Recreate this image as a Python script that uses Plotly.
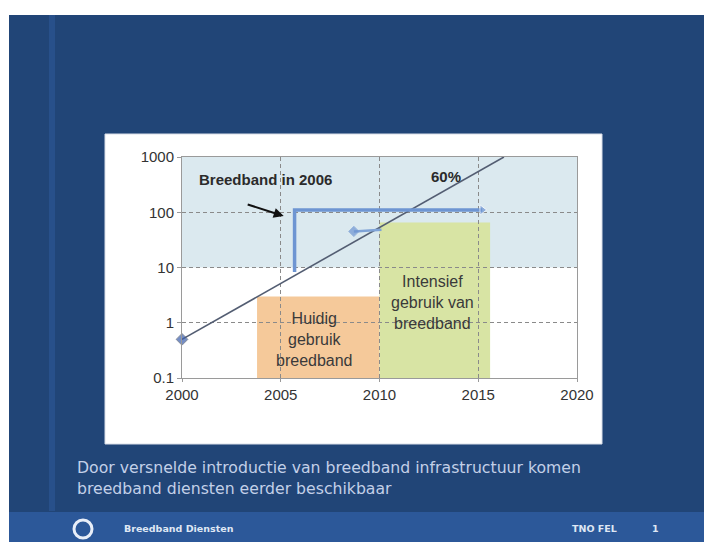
import plotly.graph_objects as go

# ---- data ----
x_ticks = [2000, 2005, 2010, 2015, 2020]
y_tickvals = [0.1, 1, 10, 100, 1000]
y_ticktext = ["0.1", "1", "10", "100", "1000"]

trend_years = [2000, 2016.3]
trend_values = [0.5, 1000]

step_years = [2005.7, 2005.7, 2015.2]
step_values = [8.3, 110, 110]

early_years = [2008.7, 2010.1]
early_values = [45, 48]

band_years = [2000, 2020]
band_values = [10, 1000]

current_years = [2003.8, 2010]
current_values = [0.1, 3]

intensive_years = [2010, 2015.6]
intensive_values = [0.1, 65]

W, H = 712, 542
OFF = 8  # page body margin offset

def px(x):
    return (x - OFF) / W

def py(y):
    return 1 - (y - OFF) / H

fig = go.Figure()

# trend line 60%
fig.add_trace(go.Scatter(
    x=trend_years, y=trend_values, mode="lines+markers",
    line=dict(color="#535d72", width=1.6),
    marker=dict(symbol=["diamond", "circle"], size=[9, 0], color="#3a5fae"),
    showlegend=False, cliponaxis=False))

# step line
fig.add_trace(go.Scatter(
    x=step_years, y=step_values, mode="lines+markers",
    line=dict(color="#6e95d2", width=3.5),
    marker=dict(symbol=["circle", "circle", "triangle-right"], size=[0, 0, 9], color="#6e95d2"),
    showlegend=False))

# early segment
fig.add_trace(go.Scatter(
    x=early_years, y=early_values, mode="lines+markers",
    line=dict(color="#7ea2d6", width=2.5),
    marker=dict(symbol=["diamond", "circle"], size=[8, 0], color="#6e95d2"),
    showlegend=False))

def data_rect(xs, ys, color):
    return dict(type="rect", xref="x", yref="y", x0=xs[0], x1=xs[1], y0=ys[0], y1=ys[1],
                fillcolor=color, line=dict(width=0), layer="below")

shapes = [
    # top white strip and left white strip
    dict(type="rect", xref="paper", yref="paper", x0=0, x1=1, y0=py(15), y1=1,
         fillcolor="white", line=dict(width=0), layer="below"),
    dict(type="rect", xref="paper", yref="paper", x0=0, x1=px(9), y0=0, y1=1,
         fillcolor="white", line=dict(width=0), layer="below"),
    # lighter vertical stripe
    dict(type="rect", xref="paper", yref="paper", x0=px(49), x1=px(55), y0=py(511), y1=py(15),
         fillcolor="#28508a", line=dict(width=0), layer="below"),
    # footer band
    dict(type="rect", xref="paper", yref="paper", x0=px(9), x1=1, y0=0, y1=py(512),
         fillcolor="#2c5899", line=dict(width=0), layer="below"),
    # white panel
    dict(type="rect", xref="paper", yref="paper", x0=px(105), x1=px(602), y0=py(444), y1=py(134),
         fillcolor="white", line=dict(color="#d9dee8", width=1), layer="below"),
    # chart regions
    data_rect(band_years, band_values, "#dbe9ef"),
    data_rect(current_years, current_values, "#f5c99a"),
    data_rect(intensive_years, intensive_values, "#d8e4a4"),
    # logo ring
    dict(type="circle", xref="paper", yref="paper", x0=px(74), x1=px(92), y0=py(538), y1=py(520),
         fillcolor="rgba(0,0,0,0)", line=dict(color="#e8eef8", width=3), layer="above"),
]

annotations = [
    dict(x=2000.76, y=2.584, xref="x", yref="y", text="<b>Breedband in 2006</b>",
         showarrow=False, xanchor="left", font=dict(size=15, color="#2b2b2b", family="Arial")),
    dict(x=2013.37, y=2.64, xref="x", yref="y", text="<b>60%</b>",
         showarrow=False, font=dict(size=15, color="#2b2b2b", family="Arial")),
    dict(x=2006.73, y=-0.31, xref="x", yref="y", text="Huidig<br>gebruik<br>breedband",
         showarrow=False, font=dict(size=16, color="#3a3a3a", family="Arial")),
    dict(x=2012.7, y=0.36, xref="x", yref="y", text="Intensief<br>gebruik van<br>breedband",
         showarrow=False, font=dict(size=16, color="#3a3a3a", family="Arial")),
    dict(x=2005.15, y=1.93, xref="x", yref="y", ax=2003.25, ay=2.15, axref="x", ayref="y",
         text="", showarrow=True, arrowhead=2, arrowsize=1, arrowwidth=2, arrowcolor="#111111"),
    dict(x=px(75), y=py(467), xref="paper", yref="paper", xanchor="left", yanchor="middle",
         text="Door versnelde introductie van breedband infrastructuur komen",
         showarrow=False, font=dict(size=15.7, color="#c3d0e8", family="DejaVu Sans")),
    dict(x=px(75), y=py(488), xref="paper", yref="paper", xanchor="left", yanchor="middle",
         text="breedband diensten eerder beschikbaar",
         showarrow=False, font=dict(size=15.7, color="#c3d0e8", family="DejaVu Sans")),
    dict(x=px(122), y=py(528), xref="paper", yref="paper", xanchor="left", yanchor="middle",
         text="<b>Breedband Diensten</b>", showarrow=False,
         font=dict(size=9.5, color="#dfe7f4", family="DejaVu Sans")),
    dict(x=px(570), y=py(528), xref="paper", yref="paper", xanchor="left", yanchor="middle",
         text="<b>TNO FEL</b>", showarrow=False,
         font=dict(size=9.5, color="#dfe7f4", family="DejaVu Sans")),
    dict(x=px(655), y=py(528), xref="paper", yref="paper", xanchor="center", yanchor="middle",
         text="<b>1</b>", showarrow=False,
         font=dict(size=9.5, color="#dfe7f4", family="DejaVu Sans")),
]

axis_common = dict(
    showgrid=True, gridcolor="#8a8a8a", griddash="4px,3px", gridwidth=1,
    showline=True, linecolor="#9a9a9a", mirror=True, zeroline=False,
    ticks="outside", tickcolor="#9a9a9a", automargin=False,
    tickfont=dict(size=15, color="#333333", family="Arial"),
)

fig.update_layout(
    width=W, height=H,
    margin=dict(l=0, r=0, t=0, b=0, pad=0, autoexpand=False),
    paper_bgcolor="#214577",
    plot_bgcolor="rgba(0,0,0,0)",
    showlegend=False,
    shapes=shapes,
    annotations=annotations,
    xaxis=dict(domain=[px(182), px(577)], range=[2000, 2020], tickvals=x_ticks,
               ticklen=3, **axis_common),
    yaxis=dict(domain=[py(378), py(157)], type="log", range=[-1, 3],
               tickvals=y_tickvals, ticktext=y_ticktext, ticklen=4, **axis_common),
)

fig.write_html("out.html")
